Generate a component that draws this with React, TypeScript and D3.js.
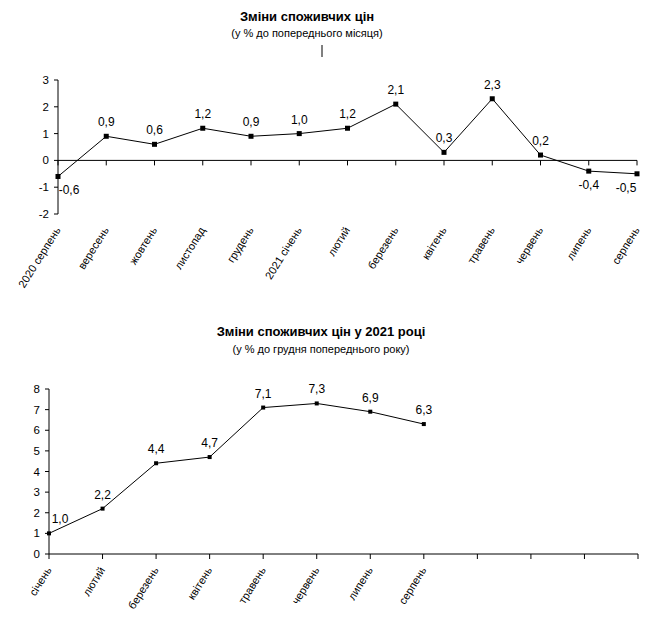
import React from "react";
import * as d3 from "d3";

const topCategories = ["2020 серпень", "вересень", "жовтень", "листопад", "грудень", "2021 січень", "лютий", "березень", "квітень", "травень", "червень", "липень", "серпень"];
const topValues = [-0.6, 0.9, 0.6, 1.2, 0.9, 1.0, 1.2, 2.1, 0.3, 2.3, 0.2, -0.4, -0.5];
const topTicks = [-2, -1, 0, 1, 2, 3];

const bottomCategories = ["січень", "лютий", "березень", "квітень", "травень", "червень", "липень", "серпень", "вересень", "жовтень", "листопад", "грудень"];
const bottomValues = [1.0, 2.2, 4.4, 4.7, 7.1, 7.3, 6.9, 6.3];
const bottomTicks = [0, 1, 2, 3, 4, 5, 6, 7, 8];

const FONT = "'Liberation Sans', Arial, sans-serif";
const fmt = (v: number) => v.toFixed(1).replace(".", ",");

function Chart({ categories, values, ticks, x0, x1, yTop, yBot, domain, shownLabels, labelY, marker }: any) {
  const x = d3.scalePoint<number>().domain(d3.range(categories.length)).range([x0, x1]);
  const y = d3.scaleLinear().domain(domain).range([yBot, yTop]);
  const line = d3.line<number>().x((_, i) => x(i)!).y((d) => y(d));
  const zeroY = y(0);
  return (
    <g>
      <line x1={x0} x2={x0} y1={yTop} y2={yBot} stroke="#000" strokeWidth={1} />
      {ticks.map((t: number) => (
        <g key={t}>
          <line x1={x0 - 4} x2={x0} y1={y(t)} y2={y(t)} stroke="#000" />
          <text x={x0 - 9} y={y(t) + 4} textAnchor="end" fontSize={11.5} fontFamily={FONT} fill="#000">{t}</text>
        </g>
      ))}
      <line x1={x0} x2={x1} y1={zeroY} y2={zeroY} stroke="#000" strokeWidth={1} />
      {categories.map((c: string, i: number) => (
        <line key={"t" + i} x1={x(i)} x2={x(i)} y1={zeroY} y2={zeroY + 5} stroke="#000" />
      ))}
      {categories.map((c: string, i: number) =>
        i < shownLabels ? (
          <text key={"l" + i} transform={`translate(${x(i)! + 3},${labelY}) rotate(-58)`} textAnchor="end" fontSize={11} fontFamily={FONT} fill="#000">{c}</text>
        ) : null
      )}
      <path d={line(values) || ""} fill="none" stroke="#000" strokeWidth={1} />
      {values.map((v: number, i: number) => (
        <rect key={"m" + i} x={x(i)! - marker / 2} y={y(v) - marker / 2} width={marker} height={marker} fill="#000" />
      ))}
      {values.map((v: number, i: number) => {
        const below = v < 0;
        let dx = 0;
        if (i === 0) dx = 11;
        if (i === categories.length - 1) dx = -11;
        return (
          <text key={"d" + i} x={x(i)! + dx} y={y(v) + (below ? 18 : -10)} textAnchor="middle" fontSize={12} fontFamily={FONT} fill="#000">{fmt(v)}</text>
        );
      })}
    </g>
  );
}

export default function App() {
  return (
    <svg width={664} height={620} style={{ display: "block", position: "absolute", left: 0, top: 0 }}>
      <rect width={664} height={620} fill="#fff" />
      <text x={307} y={21} textAnchor="middle" fontSize={13} fontWeight="bold" fontFamily={FONT}>Зміни споживчих цін</text>
      <text x={307} y={37} textAnchor="middle" fontSize={11} fontFamily={FONT}>(у % до попереднього місяця)</text>
      <line x1={322} x2={322} y1={45} y2={57} stroke="#000" />
      <Chart categories={topCategories} values={topValues} ticks={topTicks} x0={58} x1={637} yTop={80} yBot={214} domain={[-2, 3]} shownLabels={topCategories.length} labelY={230} marker={5} />
      <text x={321} y={336} textAnchor="middle" fontSize={13} fontWeight="bold" fontFamily={FONT}>Зміни споживчих цін у 2021 році</text>
      <text x={321} y={353} textAnchor="middle" fontSize={11} fontFamily={FONT}>(у % до грудня попереднього року)</text>
      <Chart categories={bottomCategories} values={bottomValues} ticks={bottomTicks} x0={49} x1={638} yTop={389} yBot={554} domain={[0, 8]} shownLabels={bottomValues.length} labelY={570} marker={4} />
    </svg>
  );
}
